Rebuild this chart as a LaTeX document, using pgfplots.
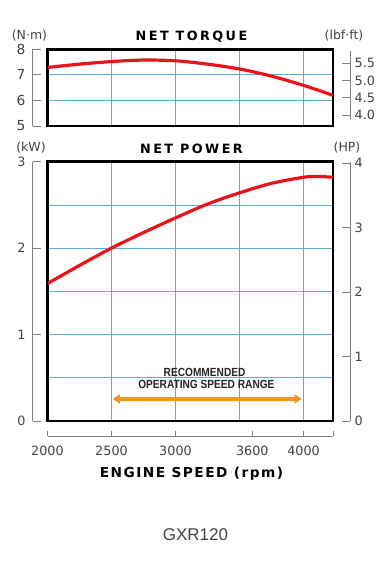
\documentclass[border=0pt]{standalone}
\usepackage{pgfplots}
\pgfplotsset{compat=1.18}
\usetikzlibrary{arrows.meta}
\usepackage{fontspec}
\setmainfont{Liberation Sans}
\newfontfamily\tickfont{DejaVu Sans}
\newfontfamily\titlefont[LetterSpace=19]{DejaVu Sans}
\newfontfamily\xlabfont[LetterSpace=11]{DejaVu Sans}
\definecolor{gridblue}{HTML}{5AAED3}
\definecolor{curvered}{HTML}{E8141C}
\definecolor{rangeorange}{HTML}{F7941D}
\definecolor{brk}{HTML}{808080}
\definecolor{lbl}{HTML}{444444}

\pgfplotsset{
  layers/frametop/.define layer set={axis background,axis grid,main,axis ticks,axis lines,axis tick labels,axis descriptions,axis foreground}{},
  panel/.style={scale only axis, width=285.5pt, xmin=2000, xmax=4230,
    xtick={2500,3000,3500,4000}, xticklabels={}, yticklabels={},
    grid=major, major grid style={gridblue, line width=0.8pt},
    major tick length=0pt, axis line style={black, line width=2.5pt},
    set layers=frametop, scaled ticks=false},
  bracket/.style={scale only axis, tick align=inside, major tick length=8pt,
    axis line style={brk, line width=0.9pt, -}, tick style={brk, line width=0.9pt},
    ticklabel style={font=\tickfont\fontsize{12.8}{14}\selectfont, text=lbl},
    /pgf/number format/assume math mode=true, scaled ticks=false},
}

\begin{document}
\begin{tikzpicture}

% ---------- NET TORQUE ----------
\begin{axis}[panel, at={(47.5pt,-126pt)}, anchor=south west, height=76.7pt,
  ymin=5, ymax=8, ytick={6,7}]
\addplot[curvered, line width=3.2pt, smooth] coordinates {
 (2000,7.29) (2250,7.42) (2500,7.52) (2750,7.58) (3000,7.55) (3250,7.42)
 (3500,7.23) (3750,6.95) (4000,6.59) (4230,6.20)};
\end{axis}

\begin{axis}[bracket, at={(32.7pt,-126pt)}, anchor=south west, width=1pt, height=76.7pt,
  xmin=0, xmax=1, ymin=5, ymax=8, ytick={5,6,7,8},
  axis y line*=left, axis x line=none,
  yticklabel style={font=\tickfont\fontsize{13.8}{16}\selectfont, anchor=east, inner sep=0pt, xshift=-7pt}]
\addplot[draw=none] coordinates {(0,5) (1,8)};
\end{axis}

\begin{axis}[bracket, at={(350pt,-119.3pt)}, anchor=south east, width=1pt, height=68.6pt,
  xmin=0, xmax=1, ymin=3.881, ymax=5.860, ytick={4,4.5,5,5.5},
  yticklabel={\pgfmathprintnumber[fixed,fixed zerofill,precision=1]{\tick}},
  axis y line*=right, axis x line=none,
  yticklabel style={anchor=west, inner sep=0pt, xshift=4.5pt}]
\addplot[draw=none] coordinates {(0,4) (1,5.5)};
\end{axis}

% ---------- NET POWER ----------
\begin{axis}[panel, at={(47.5pt,-421pt)}, anchor=south west, height=259.3pt,
  ymin=0, ymax=3, ytick={0.5,1,1.5,2,2.5}, clip mode=individual]
\addplot[curvered, line width=3.2pt, smooth] coordinates {
 (2000,1.59) (2250,1.80) (2500,2.00) (2750,2.18) (3000,2.35) (3250,2.51)
 (3500,2.64) (3750,2.75) (4000,2.82) (4100,2.83) (4230,2.82)};
\addplot[rangeorange, line width=3.5pt, {Triangle[length=7pt,width=9pt]}-{Triangle[length=7pt,width=9pt]}]
  coordinates {(2510,0.255) (3985,0.255)};
\node[font=\bfseries\fontsize{11.8}{13}\selectfont, text=black!85, inner sep=0pt] at (axis cs:3227,0.561) {\scalebox{0.86}[1]{RECOMMENDED}};
\node[font=\bfseries\fontsize{11.8}{13}\selectfont, text=black!85, inner sep=0pt] at (axis cs:3241,0.428) {\scalebox{0.86}[1]{OPERATING SPEED RANGE}};
\end{axis}

\begin{axis}[bracket, at={(32.7pt,-421pt)}, anchor=south west, width=1pt, height=259.3pt,
  xmin=0, xmax=1, ymin=0, ymax=3, ytick={0,1,2,3},
  axis y line*=left, axis x line=none,
  yticklabel style={anchor=east, inner sep=0pt, xshift=-7pt}]
\addplot[draw=none] coordinates {(0,0) (1,3)};
\end{axis}

\begin{axis}[bracket, at={(350pt,-421pt)}, anchor=south east, width=1pt, height=259.3pt,
  xmin=0, xmax=1, ymin=0, ymax=4.0231, ytick={0,1,2,3,4},
  axis y line*=right, axis x line=none,
  yticklabel style={anchor=west, inner sep=0pt, xshift=4.5pt}]
\addplot[draw=none] coordinates {(0,0) (1,4)};
\end{axis}

% ---------- x bracket ----------
\begin{axis}[bracket, at={(47.5pt,-436pt)}, anchor=south west, width=285.5pt, height=1pt,
  xmin=2000, xmax=4230, ymin=0, ymax=1, major tick length=5pt,
  xtick={2000,2500,3000,3600,4000,4230}, xticklabels={2000,2500,3000,3600,4000,{}},
  axis x line*=bottom, axis y line=none,
  xticklabel style={anchor=north, inner sep=0pt, yshift=-10pt}]
\addplot[draw=none] coordinates {(2000,0) (4230,1)};
\end{axis}

% ---------- texts ----------
\node[font=\titlefont\bfseries\fontsize{12.8}{14}\selectfont, anchor=base, inner sep=0pt] at (191.5pt,-40.3pt) {NET TORQUE};
\node[font=\titlefont\bfseries\fontsize{12.8}{14}\selectfont, anchor=base, inner sep=0pt] at (191.5pt,-153.3pt) {NET POWER};
\node[font=\tickfont\fontsize{12.5}{15}\selectfont, text=lbl] at (29.5pt,-35.5pt) {(N·m)};
\node[font=\tickfont\fontsize{12.5}{15}\selectfont, text=lbl] at (344pt,-35.5pt) {(lbf·ft)};
\node[font=\tickfont\fontsize{12.5}{15}\selectfont, text=lbl] at (31pt,-148pt) {(kW)};
\node[font=\tickfont\fontsize{12.5}{15}\selectfont, text=lbl] at (347pt,-148pt) {(HP)};
\node[font=\xlabfont\bfseries\fontsize{13.7}{15}\selectfont, anchor=base, inner sep=0pt] at (191.5pt,-477.3pt) {ENGINE SPEED (rpm)};
\node[font=\fontsize{17}{19}\selectfont, text=lbl] at (195.5pt,-534.5pt) {GXR120};

\pgfresetboundingbox
\useasboundingbox (0,0) rectangle (388pt,-561pt);
\end{tikzpicture}
\end{document}
